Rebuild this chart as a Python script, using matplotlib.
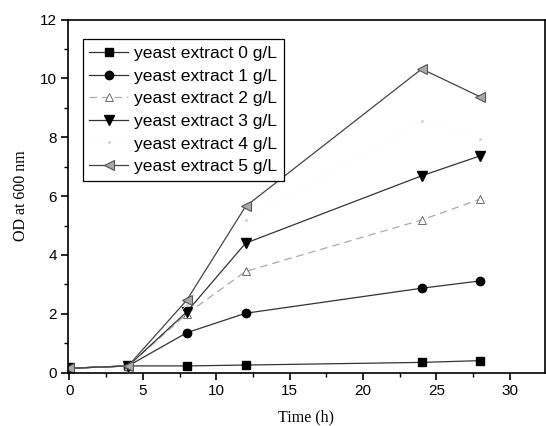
import matplotlib
matplotlib.use("Agg")
import matplotlib.pyplot as plt
from matplotlib.ticker import MultipleLocator

time_h = [0, 4, 8, 12, 24, 28]
ye0 = [0.15, 0.23, 0.23, 0.26, 0.35, 0.41]
ye1 = [0.15, 0.23, 1.36, 2.02, 2.87, 3.12]
ye2 = [0.15, 0.23, 2.0, 3.44, 5.19, 5.90]
ye3 = [0.15, 0.23, 2.07, 4.40, 6.69, 7.37]
ye4 = [0.15, 0.23, 2.3, 5.2, 8.54, 7.95]
ye5 = [0.15, 0.23, 2.47, 5.65, 10.32, 9.37]
labels = ["yeast extract 0 g/L", "yeast extract 1 g/L", "yeast extract 2 g/L",
          "yeast extract 3 g/L", "yeast extract 4 g/L", "yeast extract 5 g/L"]

fig = plt.figure(figsize=(5.46, 4.26), dpi=100)
ax = fig.add_axes([68/546, 1-372.7/426, (545-68)/546, (372.7-19.5)/426])

ax.plot(time_h, ye0, color='#333333', lw=0.9, marker='s', ms=6, mfc='black', mec='black', label=labels[0])
ax.plot(time_h, ye1, color='#333333', lw=0.9, marker='o', ms=6, mfc='black', mec='black', label=labels[1])
ax.plot(time_h, ye2, color='#aaaaaa', lw=0.9, ls=(0, (6, 4)), marker='^', ms=6, mfc='white', mec='#555555', mew=0.6, label=labels[2])
ax.plot(time_h, ye3, color='#333333', lw=0.9, marker='v', ms=7, mfc='black', mec='black', label=labels[3])
ax.plot(time_h, ye4, color='#fbfbfb', lw=0.5, marker='.', ms=2, mfc='#d0d0d0', mec='#d0d0d0', label=labels[4])
ax.plot(time_h, ye5, color='#444444', lw=0.9, marker='<', ms=6.5, mfc='#aaaaaa', mec='#555555', mew=0.8, label=labels[5])

ax.set_xlim(-0.1, 32.4)
ax.set_ylim(0, 12)
ax.xaxis.set_major_locator(MultipleLocator(5))
ax.xaxis.set_minor_locator(MultipleLocator(2.5))
ax.yaxis.set_major_locator(MultipleLocator(2))
ax.yaxis.set_minor_locator(MultipleLocator(1))
ax.tick_params(which='major', direction='out', length=5, width=1.2, labelsize=11, pad=3)
ax.tick_params(which='minor', direction='out', length=3, width=1.0)
for lab in ax.get_xticklabels() + ax.get_yticklabels():
    lab.set_fontfamily('Liberation Sans')
for sp in ax.spines.values():
    sp.set_linewidth(1.2)

ax.set_xlabel('Time (h)', fontfamily='Liberation Serif', fontsize=11.5, labelpad=8)
ax.set_ylabel('OD at 600 nm', fontfamily='Liberation Serif', fontsize=11.5, labelpad=8)

leg = ax.legend(loc='upper left', bbox_to_anchor=(0.031, 0.944), borderaxespad=0,
                prop={'family': 'Liberation Sans', 'size': 12.6}, frameon=True, fancybox=False,
                edgecolor='black', framealpha=1, handlelength=2.2, handletextpad=0.35,
                labelspacing=0.42, borderpad=0.38)
leg.get_frame().set_linewidth(0.9)

fig.savefig('out.png', dpi=100)
